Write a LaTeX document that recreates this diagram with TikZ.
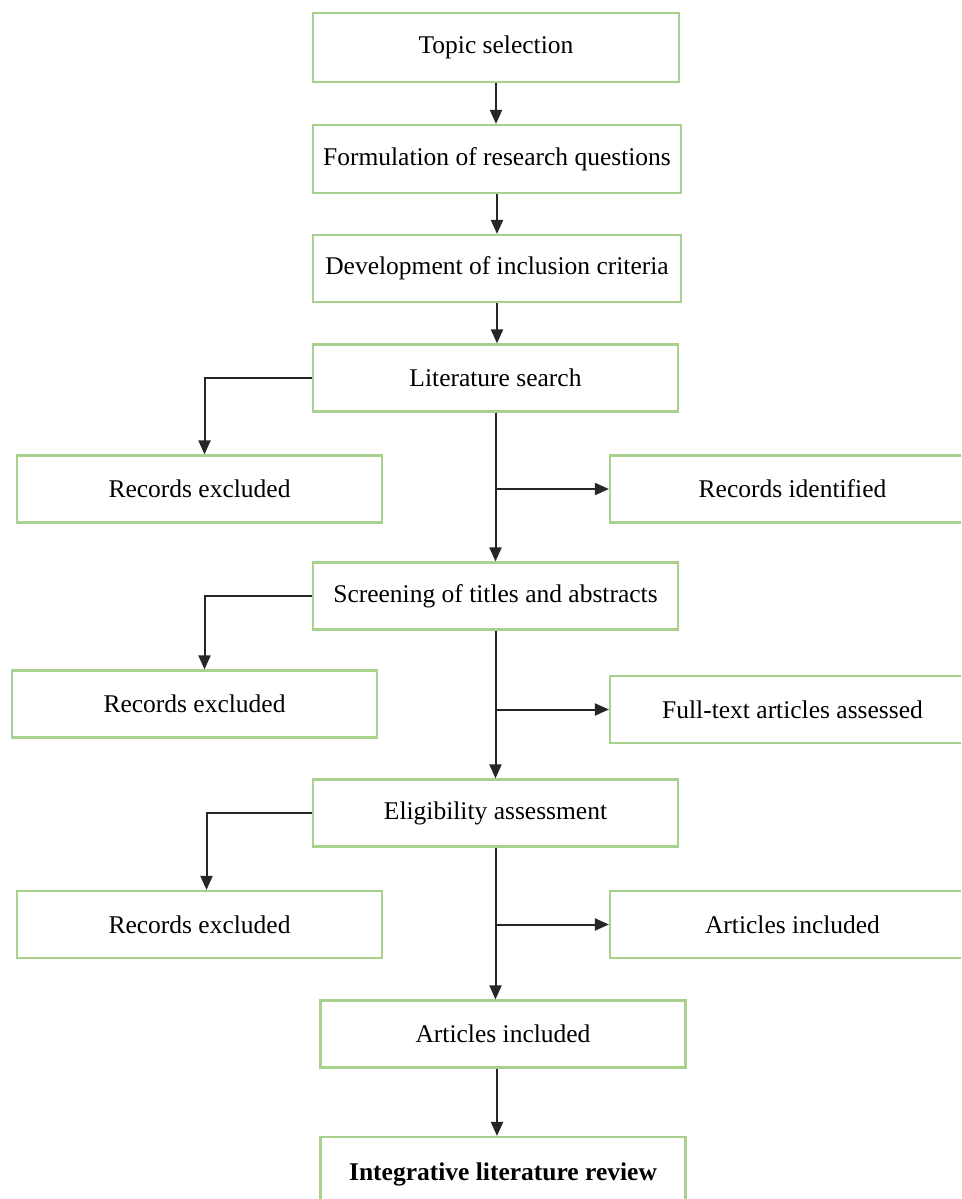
\documentclass[tikz,border=0pt]{standalone}
\usepackage{fontspec}
\setmainfont{Liberation Serif}
\usetikzlibrary{arrows.meta}
\definecolor{boxgreen}{HTML}{A9D18E}
\begin{document}
\begin{tikzpicture}[x=1pt,y=-1pt,
  stepbox/.style={draw=boxgreen,line width=2.2pt,fill=white,minimum width=365pt,minimum height=67pt,inner sep=0pt,font=\fontsize{25.5}{30}\selectfont},
  arr/.style={draw=black!85,line width=2pt,-{Triangle[length=14pt,width=12pt]}}]
\useasboundingbox (0,0) rectangle (961,1199);
\clip (0,0) rectangle (961,1199);
\fill[white] (0,0) rectangle (961,1199);
\node[stepbox,minimum width=366pt,minimum height=69pt] (ts) at (496,47.5) {Topic selection};
\node[stepbox,minimum width=368pt,minimum height=68pt] (frq) at (497,159) {Formulation of research questions};
\node[stepbox,minimum width=368pt] (dic) at (497,268.5) {Development of inclusion criteria};
\node[stepbox] (ls) at (495.5,378) {Literature search};
\node[stepbox] (re1) at (199.5,489) {Records excluded};
\node[stepbox] (ri) at (792.5,489) {Records identified};
\node[stepbox] (sta) at (495.5,596) {Screening of titles and abstracts};
\node[stepbox] (re2) at (194.5,704) {Records excluded};
\node[stepbox] (fta) at (792.5,709.5) {Full-text articles assessed};
\node[stepbox] (ea) at (495.5,813) {Eligibility assessment};
\node[stepbox] (re3) at (199.5,924.5) {Records excluded};
\node[stepbox] (ai2) at (792.5,924.5) {Articles included};
\node[stepbox] (ai) at (503,1034) {Articles included};
\node[stepbox,minimum height=75pt] (ilr) at (503,1174.5) {\bfseries Integrative literature review};
\draw[arr] (ts.south) -- (ts.south |- frq.north);
\draw[arr] (frq.south) -- (frq.south |- dic.north);
\draw[arr] (dic.south) -- (dic.south |- ls.north);
\draw[arr] (ls.west) -| ([xshift=5pt]re1.north);
\draw[arr] (ls.south) -- (ls.south |- sta.north);
\draw[arr] (ls.south |- ri.west) -- (ri.west);
\draw[arr] (sta.west) -| ([xshift=10pt]re2.north);
\draw[arr] (sta.south) -- (sta.south |- ea.north);
\draw[arr] (sta.south |- fta.west) -- (fta.west);
\draw[arr] (ea.west) -| ([xshift=7pt]re3.north);
\draw[arr] (ea.south) -- (ea.south |- ai.north);
\draw[arr] (ea.south |- ai2.west) -- (ai2.west);
\draw[arr] ([xshift=-6pt]ai.south) -- ([xshift=-6pt]ai.south |- ilr.north);
\end{tikzpicture}
\end{document}
